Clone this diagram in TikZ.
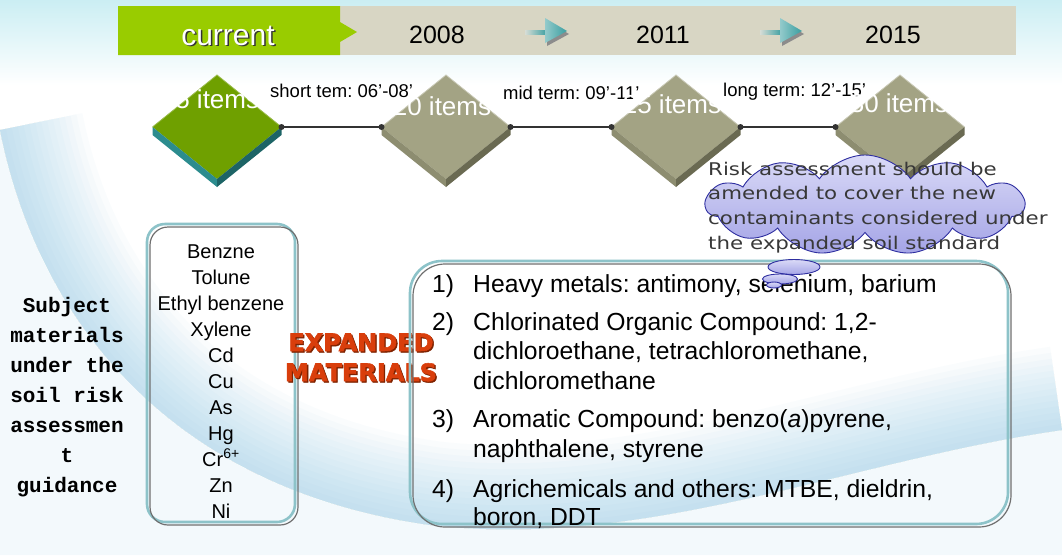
\documentclass[tikz,border=0pt]{standalone}
\usepackage{fontspec}
\setmainfont{Liberation Sans}
\newfontfamily\notefont[FakeStretch=1.22]{DejaVu Sans}
\newfontfamily\heavyfont[FakeBold=2.2]{DejaVu Sans}
\newfontfamily\typefont{Liberation Mono}
\usetikzlibrary{shapes.geometric,shapes.symbols}

\definecolor{barGreen}{HTML}{99CC00}
\definecolor{barSand}{HTML}{D8D6C4}
\definecolor{arrowTeal}{HTML}{3A9EA0}
\definecolor{arrowPale}{HTML}{D6DDD6}
\definecolor{slabTop}{HTML}{A3A384}
\definecolor{slabL}{HTML}{8D8D70}
\definecolor{slabR}{HTML}{6A6A52}
\definecolor{leafTop}{HTML}{6FA000}
\definecolor{leafL}{HTML}{2C8C8E}
\definecolor{leafR}{HTML}{1D6466}
\definecolor{lineGray}{HTML}{333333}
\definecolor{frameTeal}{HTML}{8DC3C9}
\definecolor{frameGray}{HTML}{707070}
\definecolor{cloudTop}{HTML}{DADAF7}
\definecolor{cloudBot}{HTML}{A4A4E6}
\definecolor{cloudLine}{HTML}{2E2EA0}
\definecolor{noteInk}{HTML}{383838}
\definecolor{alertRed}{HTML}{D93E0C}
\definecolor{alertShade}{HTML}{7E2200}
\definecolor{skyA}{HTML}{CBEEF3}
\definecolor{swoosh}{HTML}{8CC8E4}

\tikzset{
  yeartxt/.style={font=\fontsize{25}{30}\selectfont, text=black, anchor=base, inner sep=0},
  termtxt/.style={font=\fontsize{18.5}{22}\selectfont, text=black, anchor=base west, inner sep=0},
  itemtxt/.style={font=\fontsize{26}{30}\selectfont, text=white, anchor=base, inner sep=0},
  slab/.style={diamond, minimum width=129, minimum height=104, inner sep=0, outer sep=0},
  joint/.style={line width=1.3, draw=lineGray},
  listtxt/.style={font=\fontsize{20}{24}\selectfont, anchor=base, inner sep=0},
  guidetxt/.style={font=\typefont\bfseries\fontsize{21}{30}\selectfont, anchor=base, inner sep=0},
  bigtxt/.style={font=\fontsize{24.7}{30}\selectfont, anchor=base west, inner sep=0},
  alert/.style={font=\heavyfont\bfseries\fontsize{24}{28}\selectfont, anchor=base, inner sep=0},
  notetxt/.style={font=\notefont\fontsize{17.5}{20}\selectfont, text=noteInk, anchor=base west, inner sep=0},
  puff/.style={draw=cloudLine, line width=0.9, top color=cloudTop, bottom color=cloudBot},
  frameA/.style={draw=frameTeal, line width=2.6, outer sep=0, inner sep=0, anchor=north west},
  frameB/.style={draw=frameGray, line width=1.2, outer sep=0, inner sep=0, anchor=north west},
}

\begin{document}
\frenchspacing
\begin{tikzpicture}[x=1pt,y=-1pt]
\useasboundingbox (0,0) rectangle (1062,555);

% ---------- background ----------
\fill[white] (0,0) rectangle (1062,555);
\shade[top color=skyA, bottom color=white] (0,0) rectangle (1062,85);
\begin{scope}
  \clip (0,130) .. controls (40,330) and (180,490) .. (430,525)
        .. controls (650,550) and (850,460) .. (1062,430)
        -- (1062,0) -- (0,0) -- cycle;
  \foreach \w in {12,24,...,168}
    \draw[swoosh, line width=\w, opacity=0.045]
      (0,130) .. controls (40,330) and (180,490) .. (430,525)
      .. controls (650,550) and (850,460) .. (1062,430);
\end{scope}
\fill[swoosh, opacity=0.1] (0,130) .. controls (40,330) and (180,490) .. (430,525)
      .. controls (650,550) and (850,460) .. (1062,430) -- (1062,555) -- (0,555) -- cycle;

% ---------- timeline bar ----------
\node[fill=barSand, minimum width=676, minimum height=49, inner sep=0, outer sep=0, anchor=north west] (band) at (340,6) {};
\fill[barGreen] (118,6) -- (340,6) -- (340,22) -- (357,32) -- (340,42) -- (340,55) -- (118,55) -- cycle;
\node[font=\fontsize{30}{34}\selectfont, text=black!80, anchor=base, inner sep=0] (curshadow) at (229.5,46.5) {current};
\node[font=\fontsize{30}{34}\selectfont, text=white, anchor=base, inner sep=0] (cur) at (228,45) {current};
\node[yeartxt] (y1) at (437,43) {2008};
\node[yeartxt] (y2) at (663,43) {2011};
\node[yeartxt] (y3) at (893,43) {2015};
\foreach \dx in {0,235}{
  \begin{scope}[xshift=\dx]
    \shade[left color=arrowPale, right color=arrowTeal] (525,30) rectangle (547,34);
    \fill[black!45] (547,21) -- (569,34) -- (547,46) -- cycle;
    \shade[left color=arrowTeal!55, right color=arrowTeal] (545,18) -- (567,31) -- (545,43) -- cycle;
  \end{scope}
}

% ---------- milestone slabs ----------
\node[slab, fill=leafTop] (d1) at (217,127) {};
\node[slab, fill=slabTop] (d2) at (446,127) {};
\node[slab, fill=slabTop] (d3) at (676,127) {};
\node[slab, fill=slabTop] (d4) at (900,127) {};
\fill[leafL] (d1.west) -- (d1.south) -- ([yshift=-8pt]d1.south) -- ([yshift=-8pt]d1.west) -- cycle;
\fill[leafR] (d1.south) -- (d1.east) -- ([yshift=-8pt]d1.east) -- ([yshift=-8pt]d1.south) -- cycle;
\foreach \d in {d2,d3,d4}{
  \fill[slabL] (\d.west) -- (\d.south) -- ([yshift=-8pt]\d.south) -- ([yshift=-8pt]\d.west) -- cycle;
  \fill[slabR] (\d.south) -- (\d.east) -- ([yshift=-8pt]\d.east) -- ([yshift=-8pt]\d.south) -- cycle;
  \draw[slabTop!60!white, line width=0.8] (\d.west) -- (\d.north) -- (\d.east);
}
\draw[leafTop!70!white, line width=0.8] (d1.west) -- (d1.north) -- (d1.east);

\draw[joint] (d1.east) -- (d2.west);
\draw[joint] (d2.east) -- (d3.west);
\draw[joint] (d3.east) -- (d4.west);
\foreach \p in {d1.east,d2.west,d2.east,d3.west,d3.east,d4.west}
  \fill[lineGray] (\p) circle (3);

\node[termtxt] (t1) at (270,97) {short tem: 06’-08’};
\node[termtxt] (t2) at (503,99) {mid term: 09’-11’};
\node[termtxt] (t3) at (723,96) {long term: 12’-15’};

\node[itemtxt] (n1) at (210,108) {15 items};
\node[itemtxt] (n2) at (442,115) {20 items};
\node[itemtxt] (n3) at (672,113) {25 items};
\node[itemtxt] (n4) at (899,112) {30 items};

% ---------- left column ----------
\foreach \t [count=\i] in {Subject,materials,under the,soil risk,assessmen,t,guidance}
  \node[guidetxt] (g\i) at (67,282+30*\i) {\t};

\node[frameA, rounded corners=18, minimum width=148, minimum height=298] (oldbox) at (147,224) {};
\node[frameB, rounded corners=18, minimum width=148, minimum height=298] (oldrim) at (150,227) {};
\foreach \t [count=\i] in {Benzne,Tolune,Ethyl benzene,Xylene,Cd,Cu,As,Hg,{Cr\textsuperscript{6+}},Zn,Ni}
  \node[listtxt] (m\i) at (221,232+26*\i) {\t};

\node[alert, text=alertShade] (e1s) at (362.3,352.3) {EXPANDED};
\node[alert, text=alertRed] (e1) at (361,351) {EXPANDED};
\node[alert, text=alertShade] (e2s) at (362.3,382.3) {MATERIALS};
\node[alert, text=alertRed] (e2) at (361,381) {MATERIALS};

% ---------- new contaminants ----------
\node[frameA, rounded corners=32, minimum width=598, minimum height=263] (newbox) at (410,261) {};
\node[frameB, rounded corners=32, minimum width=598, minimum height=263] (newrim) at (413,264) {};
\node[bigtxt] (k1) at (432,292) {1)};
\node[bigtxt] (k2) at (432,330) {2)};
\node[bigtxt] (k3) at (432,427) {3)};
\node[bigtxt] (k4) at (432,497) {4)};
\node[bigtxt] (l1) at (473,292) {Heavy metals: antimony, selenium, barium};
\node[bigtxt] (l2) at (473,330) {Chlorinated Organic Compound: 1,2-};
\node[bigtxt] (l3) at (473,359) {dichloroethane, tetrachloromethane,};
\node[bigtxt] (l4) at (473,389) {dichloromethane};
\node[bigtxt] (l5) at (473,427) {Aromatic Compound: benzo(\textit{a})pyrene,};
\node[bigtxt] (l6) at (473,457) {naphthalene, styrene};
\node[bigtxt] (l7) at (473,497) {Agrichemicals and others: MTBE, dieldrin,};
\node[bigtxt] (l8) at (473,525) {boron, DDT};

% ---------- thought cloud ----------
\node[cloud, cloud puffs=11, cloud puff arc=110, aspect=3.1, minimum width=318, minimum height=100, inner sep=0, puff] (note) at (865,205) {};
\node[ellipse, minimum width=52, minimum height=15, inner sep=0, puff] (b1) at (794,267) {};
\node[ellipse, minimum width=35, minimum height=10, inner sep=0, puff] (b2) at (780,279) {};
\node[ellipse, minimum width=15, minimum height=6, inner sep=0, puff] (b3) at (774,285) {};
\node[notetxt] (r1) at (708,175) {Risk assessment should be};
\node[notetxt] (r2) at (708,199) {amended to cover the new};
\node[notetxt] (r3) at (708,224) {contaminants considered under};
\node[notetxt] (r4) at (708,249) {the expanded soil standard};
\end{tikzpicture}
\end{document}
